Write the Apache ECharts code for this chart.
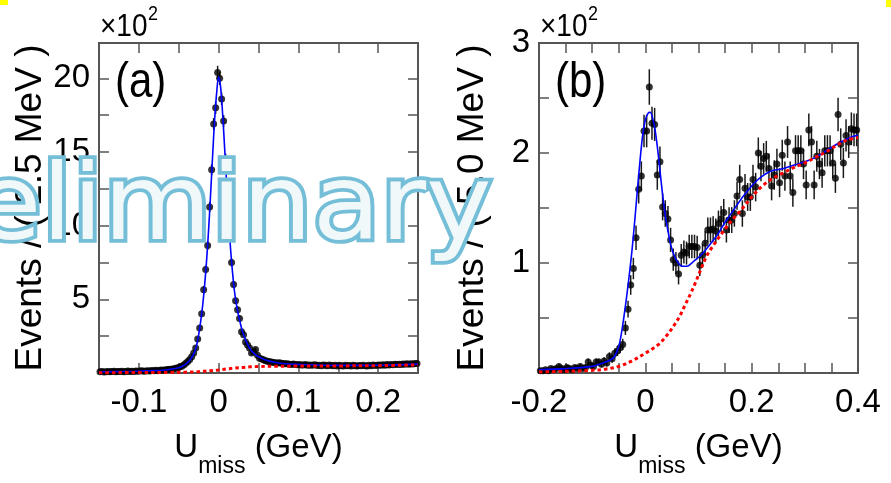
<!DOCTYPE html>
<html><head><meta charset="utf-8">
<script src="https://cdn.jsdelivr.net/npm/echarts@6/dist/echarts.min.js"></script>
<style>html,body{margin:0;padding:0;background:#fff}#c{width:891px;height:483px}</style>
</head><body><div id="c"></div>
<script>
// ---------- Panel (a): 2.5 MeV bins from -0.15 to 0.25 GeV (values in units of 10^2 events)
const A_MIN = -0.15, A_MAX = 0.25, A_BIN = 0.0025;
const dataA = [
 0.08,0.10,0.07,0.09,0.11,0.08,0.10,0.12,0.09,0.11,
 0.10,0.12,0.09,0.11,0.13,0.10,0.12,0.11,0.14,0.12,
 0.13,0.15,0.12,0.14,0.16,0.13,0.17,0.15,0.18,0.16,
 0.19,0.21,0.18,0.22,0.24,0.26,0.25,0.29,0.32,0.35,
 0.40,0.46,0.55,0.66,0.78,0.92,1.10,1.35,1.70,2.31,
 3.05,4.03,5.65,7.02,8.65,11.27,13.80,16.90,18.00,20.40,
 20.00,18.60,17.10,14.50,11.70,9.30,7.50,6.00,4.90,4.30,
 3.70,2.80,2.60,2.10,1.90,1.70,1.35,1.45,1.60,1.20,
 1.00,0.95,0.90,0.84,0.80,0.77,0.74,0.72,0.70,0.68,
 0.70,0.66,0.64,0.62,0.63,0.60,0.58,0.61,0.57,0.56,
 0.58,0.55,0.54,0.57,0.53,0.55,0.52,0.54,0.56,0.51,
 0.53,0.50,0.55,0.52,0.49,0.54,0.51,0.50,0.53,0.48,
 0.52,0.50,0.47,0.53,0.49,0.51,0.48,0.52,0.50,0.47,
 0.51,0.49,0.53,0.50,0.48,0.52,0.49,0.54,0.51,0.53,
 0.55,0.52,0.56,0.53,0.57,0.55,0.58,0.56,0.59,0.57,
 0.60,0.58,0.61,0.59,0.62,0.60,0.63,0.61,0.64,0.65
];
const fitAx = [-0.15,-0.12,-0.1,-0.08,-0.07,-0.06,-0.05,-0.045,-0.04,-0.035,-0.03,-0.0275,-0.025,-0.0225,-0.02,-0.0175,-0.015,-0.0125,-0.01,-0.0075,-0.005,-0.0025,0,0.0025,0.005,0.0075,0.01,0.0125,0.015,0.0175,0.02,0.0225,0.025,0.03,0.035,0.04,0.045,0.05,0.06,0.07,0.08,0.1,0.12,0.15,0.18,0.2,0.22,0.25];
const fitAy = [0.08,0.10,0.12,0.16,0.19,0.25,0.36,0.48,0.66,0.95,1.45,1.9,2.6,3.5,4.6,6.0,7.7,9.8,12.2,14.8,17.2,19.0,20.1,19.4,17.6,15.3,12.9,10.5,8.4,6.8,5.5,4.6,3.9,2.8,2.1,1.6,1.3,1.1,0.86,0.73,0.65,0.58,0.54,0.52,0.52,0.53,0.55,0.6];
const bkgAx = [-0.15,-0.1,-0.06,-0.04,-0.03,-0.02,-0.01,0,0.01,0.02,0.03,0.04,0.05,0.07,0.1,0.15,0.2,0.25];
const bkgAy = [0.02,0.03,0.04,0.06,0.08,0.11,0.16,0.21,0.27,0.33,0.38,0.42,0.44,0.46,0.47,0.48,0.50,0.55];

// ---------- Panel (b): 5 MeV bins from -0.2 to 0.4 GeV
const B_MIN = -0.2, B_MAX = 0.4, B_BIN = 0.005;
const dataB = [
 0.02,0.02,0.03,0.02,0.04,0.03,0.04,0.06,0.04,0.03,
 0.05,0.04,0.03,0.05,0.04,0.06,0.04,0.05,0.10,0.07,
 0.06,0.10,0.10,0.08,0.11,0.09,0.15,0.13,0.18,0.20,
 0.23,0.26,0.41,0.58,0.80,0.95,1.23,1.67,1.79,2.20,
 2.20,2.60,2.27,2.26,1.80,1.92,1.51,1.45,1.40,1.21,
 1.03,1.00,0.90,1.07,1.10,1.09,1.15,1.15,1.15,1.14,
 0.98,1.07,1.18,1.30,1.30,1.31,1.29,1.36,1.40,1.46,
 1.30,1.39,1.39,1.45,1.61,1.76,1.45,1.68,1.60,1.60,
 1.76,1.69,2.00,1.88,1.95,1.97,1.86,1.70,1.80,1.90,
 1.73,1.98,1.79,2.10,1.79,1.64,2.02,2.02,2.02,1.90,
 1.71,2.21,2.10,1.71,1.97,1.90,1.82,2.02,2.02,2.02,
 1.91,1.77,2.35,2.08,1.91,2.16,2.10,2.22,2.21,2.21
];
const fitBx = [-0.2,-0.15,-0.1,-0.08,-0.065,-0.058,-0.05,-0.045,-0.04,-0.035,-0.03,-0.025,-0.02,-0.015,-0.01,-0.005,0,0.005,0.009,0.013,0.018,0.023,0.028,0.033,0.038,0.043,0.048,0.055,0.062,0.07,0.078,0.085,0.092,0.1,0.11,0.12,0.13,0.14,0.15,0.16,0.17,0.18,0.19,0.2,0.21,0.22,0.23,0.24,0.26,0.28,0.3,0.32,0.34,0.36,0.38,0.39,0.4];
const fitBy = [0.03,0.04,0.06,0.09,0.12,0.15,0.24,0.36,0.52,0.70,0.90,1.12,1.38,1.66,1.93,2.16,2.30,2.36,2.37,2.33,2.22,2.04,1.82,1.60,1.42,1.28,1.16,1.06,1.00,0.97,0.97,0.99,1.02,1.05,1.10,1.16,1.22,1.29,1.37,1.44,1.51,1.58,1.64,1.70,1.75,1.79,1.82,1.84,1.86,1.89,1.92,1.96,2.02,2.08,2.13,2.15,2.16];
const bkgBx = [-0.2,-0.15,-0.1,-0.075,-0.05,-0.025,0,0.025,0.04,0.055,0.065,0.075,0.085,0.095,0.105,0.115,0.125,0.135,0.15,0.165,0.18,0.2,0.22,0.24,0.26,0.28,0.3,0.32,0.34,0.36,0.38,0.4];
const bkgBy = [0.01,0.015,0.025,0.035,0.06,0.11,0.18,0.26,0.34,0.44,0.52,0.62,0.72,0.83,0.95,1.06,1.14,1.21,1.31,1.40,1.48,1.60,1.70,1.77,1.82,1.87,1.91,1.96,2.01,2.07,2.12,2.14];

// tick / label settings
const xTicksA = {min: A_MIN, max: A_MAX, interval: 0.05, labelStep: 0.1};
const yTicksA = {min: 0, max: 22.4, interval: 2.5, labelStep: 5};
const xTicksB = {min: B_MIN, max: B_MAX, interval: 0.05, labelStep: 0.2};
const yTicksB = {min: 0, max: 3, interval: 0.5, labelStep: 1};
const yTitleA = 'Events / ( 2.5 MeV )';
const yTitleB = 'Events / ( 5.0 MeV )';

// ---------- build
const F = "'Liberation Sans',Arial,sans-serif";
const AX = '#555';

const centers = (vals, min, bin) => vals.map((v, i) => +(min + (i + 0.5) * bin).toFixed(5));
const pts = (xs, ys) => xs.map((x, i) => [x, ys[i]]);
const errs = (xs, ys) => xs.map((x, i) => { const e = Math.sqrt(ys[i] * 100) / 100; return [x, ys[i] - e, ys[i] + e]; });

function fmt(step, showZero) {
  return function (v) {
    const r = Math.round(v * 1000) / 1000;
    const q = r / step;
    if (Math.abs(q - Math.round(q)) > 1e-6) return '';
    if (Math.abs(r) < 1e-9) return showZero ? '0' : '';
    return step < 1 ? r.toFixed(1) : String(Math.round(r));
  };
}
const lineStyle = {color: AX, width: 2};
const tickStyle = {show: true, inside: true, length: 10, lineStyle: {color: AX, width: 1.5}};
const labelFont = {fontFamily: F, fontSize: 33, color: '#000'};

function xAxes(g, t) {
  const base = {type: 'value', gridIndex: g, min: t.min, max: t.max, interval: t.interval,
    splitLine: {show: false}, axisLine: {show: true, onZero: false, lineStyle}, axisTick: tickStyle};
  return [
    Object.assign({}, base, {position: 'bottom',
      axisLabel: Object.assign({show: true, margin: 13, showMinLabel: true, showMaxLabel: true, hideOverlap: false, formatter: fmt(t.labelStep, true)}, labelFont),
      name: '{u|U}{s|miss}{u| (GeV)}', nameLocation: 'middle', nameGap: 58,
      nameTextStyle: {fontFamily: F, rich: {
        u: {fontFamily: F, fontSize: 33, color: '#000', lineHeight: 36, verticalAlign: 'top'},
        s: {fontFamily: F, fontSize: 23, color: '#000', lineHeight: 23, verticalAlign: 'top', padding: [24, 0, 0, 0]}
      }}}),
    Object.assign({}, base, {position: 'top', axisLabel: {show: false}})
  ];
}
function yAxes(g, t, title) {
  const base = {type: 'value', gridIndex: g, min: t.min, max: t.max, interval: t.interval,
    splitLine: {show: false}, axisLine: {show: true, onZero: false, lineStyle}, axisTick: tickStyle};
  return [
    Object.assign({}, base, {position: 'left',
      axisLabel: Object.assign({show: true, margin: 9, showMinLabel: true, showMaxLabel: true, hideOverlap: false, formatter: fmt(t.labelStep, false)}, labelFont),
      name: title, nameLocation: 'middle', nameRotate: 90, nameGap: 48,
      nameTextStyle: {fontFamily: F, fontSize: 37, color: '#000'}}),
    Object.assign({}, base, {position: 'right', axisLabel: {show: false}})
  ];
}

function errItem(params, api) {
  const x = api.value(0);
  const p1 = api.coord([x, api.value(1)]);
  const p2 = api.coord([x, api.value(2)]);
  return {type: 'line', shape: {x1: p1[0], y1: p1[1], x2: p2[0], y2: p2[1]},
    style: {stroke: '#1a1a1a', lineWidth: 1.5}};
}
function panelSeries(xi, yi, xs, ys, fx, fy, bx, by, sz) {
  return [
    {type: 'custom', xAxisIndex: xi, yAxisIndex: yi, renderItem: errItem, data: errs(xs, ys),
      encode: {x: 0, y: [1, 2]}, z: 2, silent: true},
    {type: 'scatter', xAxisIndex: xi, yAxisIndex: yi, data: pts(xs, ys), symbol: 'circle', symbolSize: sz,
      itemStyle: {color: '#000'}, z: 3, silent: true},
    {type: 'line', xAxisIndex: xi, yAxisIndex: yi, data: pts(fx, fy), showSymbol: false, smooth: 0.35,
      lineStyle: {color: '#0000ff', width: 1.6}, z: 4, silent: true},
    {type: 'line', xAxisIndex: xi, yAxisIndex: yi, data: pts(bx, by), showSymbol: false, smooth: 0.35,
      lineStyle: {color: '#ff0000', width: 3, type: [3.5, 3]}, z: 5, silent: true}
  ];
}

const xA = centers(dataA, A_MIN, A_BIN);
const xB = centers(dataB, B_MIN, B_BIN);
const T = (o) => Object.assign({fill: '#000', fontFamily: F, textAlign: 'left', textVerticalAlign: 'middle', align: 'left', verticalAlign: 'middle'}, o);

const chart = echarts.init(document.getElementById('c'), null, {renderer: 'canvas'});
chart.setOption({
  animation: false,
  backgroundColor: '#fff',
  grid: [
    {left: 99, top: 43, width: 319, height: 336},
    {left: 539, top: 43, width: 319, height: 336}
  ],
  xAxis: [].concat(xAxes(0, xTicksA), xAxes(1, xTicksB)),
  yAxis: [].concat(yAxes(0, yTicksA, yTitleA), yAxes(1, yTicksB, yTitleB)),
  series: [].concat(
    panelSeries(0, 0, xA, dataA, fitAx, fitAy, bkgAx, bkgAy, 7),
    panelSeries(2, 2, xB, dataB, fitBx, fitBy, bkgBx, bkgBy, 7)
  ),
  graphic: [
    {type: 'text', x: 100, y: 27, z: 50, scaleY: 1.15, style: T({text: '×10', fontSize: 28})},
    {type: 'text', x: 148, y: 14, z: 50, scaleY: 1.15, style: T({text: '2', fontSize: 18})},
    {type: 'text', x: 540, y: 27, z: 50, scaleY: 1.15, style: T({text: '×10', fontSize: 28})},
    {type: 'text', x: 588, y: 14, z: 50, scaleY: 1.15, style: T({text: '2', fontSize: 18})},
    {type: 'text', x: 115, y: 83, z: 50, scaleY: 1.2, style: T({text: '(a)', fontSize: 42})},
    {type: 'text', x: 555, y: 83, z: 50, scaleY: 1.2, style: T({text: '(b)', fontSize: 42})},
    {type: 'text', x: -135, y: 212, z: 100, scaleY: 0.95, style: T({text: 'Preliminary', fontFamily: "'DejaVu Sans',Verdana,sans-serif", fontSize: 111,
      fill: '#f1f8fa', stroke: '#74bed8', lineWidth: 8, strokeFirst: true})},
    {type: 'rect', shape: {x: 0, y: 0, width: 8, height: 5}, z: 100, style: {fill: '#ffff00'}},
    {type: 'rect', shape: {x: 886, y: 0, width: 5, height: 7}, z: 100, style: {fill: '#ffff00'}}
  ]
});
</script></body></html>
